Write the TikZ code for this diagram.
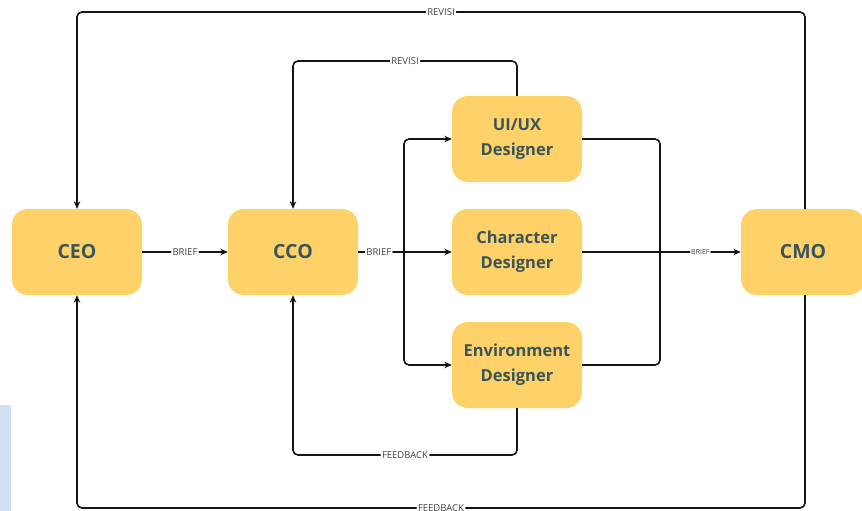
\documentclass[tikz,border=0pt]{standalone}
\usepackage{fontspec}
\setmainfont{Open Sans}
\usetikzlibrary{arrows.meta}
\definecolor{boxfill}{RGB}{254,210,104}
\definecolor{boxtext}{RGB}{58,84,92}
\definecolor{sidebar}{RGB}{207,224,240}
\definecolor{wire}{RGB}{20,20,20}
\begin{document}
\begin{tikzpicture}[x=1pt,y=-1pt,
  role/.style={draw=none,fill=boxfill,rounded corners=16pt,minimum width=130pt,minimum height=86pt,
    text=boxtext,font=\bfseries\fontsize{19.5}{22}\selectfont,align=center,inner sep=0pt},
  team/.style={role,font=\bfseries\fontsize{16.5}{25}\selectfont},
  link/.style={draw=wire,line width=1.6pt,rounded corners=5pt},
  tip/.style={-{Stealth[length=7.5pt,width=6.5pt]}},
  tag/.style={fill=white,inner sep=1.5pt,text=black!75,font=\fontsize{9.5}{10}\selectfont}]
\useasboundingbox (0,0) rectangle (862,511);
\fill[sidebar] (0,405) rectangle (11,511);

% role boxes
\node[role] (ceo) at (77,252) {CEO};
\node[role] (cco) at (293,252) {CCO};
\node[team] (ui) at (517,139) {UI/UX\\Designer};
\node[team] (chr) at (517,252) {Character\\Designer};
\node[team] (env) at (517,365) {Environment\\Designer};
\node[role,minimum width=124pt] (cmo) at (803,252) {CMO};

% helper points
\coordinate (split) at (404,252);
\coordinate (merge) at (660,252);

% brief chain
\draw[link,tip] (ceo.east) -- node[tag]{BRIEF} (cco.west);
\draw[link] (cco.east) -- node[tag,pos=0.45]{BRIEF} (split);
\draw[link,tip] (split) -- (chr.west);
\draw[link,tip] (split) |- (ui.west);
\draw[link,tip] (split) |- (env.west);
\draw[link] (ui.east) -| (merge);
\draw[link] (env.east) -| (merge);
\draw[link] (chr.east) -- (merge);
\draw[link,tip] (merge) -- node[tag,font=\fontsize{7}{8}\selectfont,inner sep=1pt]{BRIEF} (cmo.west);

% revision loops
\draw[link,tip] (ui.north) -- (517,61) -- node[tag]{REVISI} (293,61) -- (cco.north);
\draw[link,tip] (805,209) -- (805,12) -- node[tag,pos=0.5]{REVISI} (77,12) -- (ceo.north);

% feedback loops
\draw[link,tip] (env.south) -- (517,455) -- node[tag]{FEEDBACK} (293,455) -- (cco.south);
\draw[link,tip] (805,295) -- (805,508) -- node[tag]{FEEDBACK} (77,508) -- (ceo.south);
\end{tikzpicture}
\end{document}
